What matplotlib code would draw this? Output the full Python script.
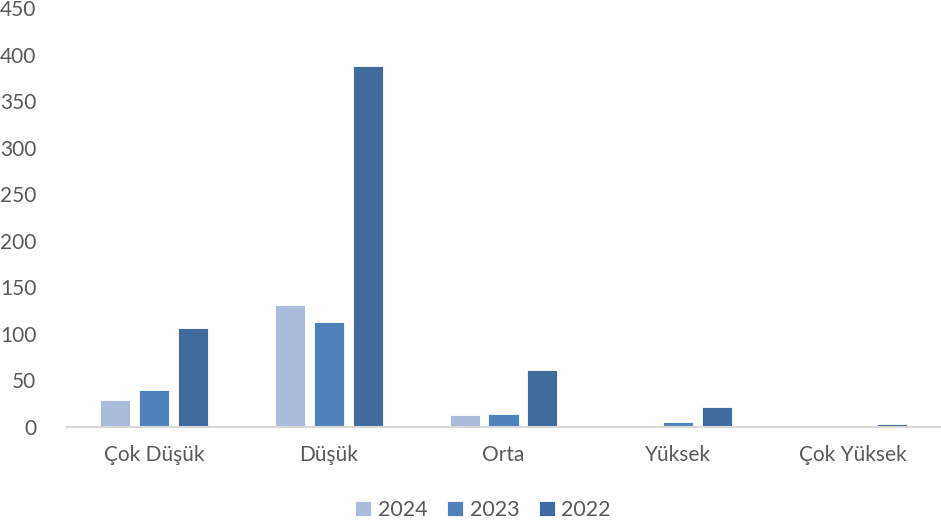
import matplotlib.pyplot as plt
import numpy as np

plt.rcParams['font.family'] = ['Lato', 'DejaVu Sans']

categories = ["Çok Düşük", "Düşük", "Orta", "Yüksek", "Çok Yüksek"]
years = ["2024", "2023", "2022"]
values_2024 = [29, 131, 13, 1, 0]
values_2023 = [40, 113, 14, 5, 0]
values_2022 = [106, 388, 61, 21, 3]
colors = ["#ABBBDA", "#4F81BD", "#3F6B9E"]

text_color = "#595959"

fig = plt.figure(figsize=(9.41, 5.30), dpi=100)
ax = fig.add_axes([67 / 941, 1 - 427 / 530, 873 / 941, 419 / 530])

x = np.arange(len(categories))
width = 0.172
step = 0.223
for i, (vals, year) in enumerate(zip([values_2024, values_2023, values_2022], years)):
    ax.bar(x + (i - 1) * step, vals, width, color=colors[i], label=year,
           edgecolor="white", linewidth=0.6, zorder=2)

ax.set_xlim(-0.5, len(categories) - 0.5)
ax.set_ylim(0, 450)
ax.set_yticks(range(0, 451, 50))
ax.set_xticks(x)
ax.set_xticklabels(categories)
ax.tick_params(axis="both", length=0, labelsize=15, colors=text_color)
ax.tick_params(axis="x", pad=13)
ax.tick_params(axis="y", pad=22)

for side in ["top", "right", "left"]:
    ax.spines[side].set_visible(False)
ax.spines["bottom"].set_color("#D9D9D9")
ax.spines["bottom"].set_linewidth(1.5)

leg = fig.legend(loc="center", bbox_to_anchor=(483 / 941, 1 - 510 / 530), ncol=3,
                 frameon=False, fontsize=15.5, handlelength=0.75, handleheight=0.75,
                 handletextpad=0.3, columnspacing=0.9)
for t in leg.get_texts():
    t.set_color(text_color)

fig.savefig("out.png", dpi=100)
